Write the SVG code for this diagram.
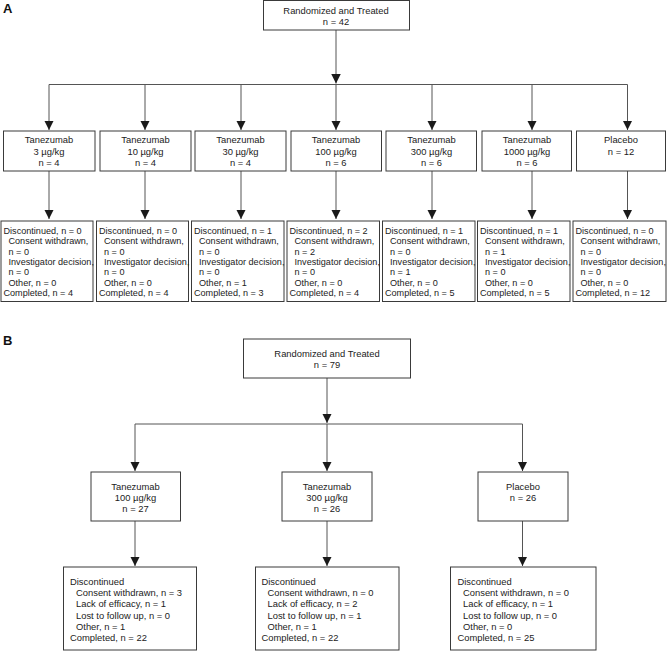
<svg xmlns="http://www.w3.org/2000/svg" width="667" height="651" viewBox="0 0 667 651">
<defs>
<marker id="ah" viewBox="0 0 10 10" refX="10" refY="5" markerWidth="9.5" markerHeight="9.5" markerUnits="userSpaceOnUse" orient="auto">
<path d="M0,0 L10,5 L0,10 Z" fill="#1a1a1a"/>
</marker>
</defs>
<style>
text{font-family:"Liberation Sans",Arial,sans-serif;font-size:9.4px;fill:#222}
.s{font-size:9.1px}
.c{text-anchor:middle}
.lbl{font-size:13px;font-weight:bold;fill:#111}
.box{fill:#fff;stroke:#3a3a3a;stroke-width:1}
.ln{fill:none;stroke:#555;stroke-width:1}
.ar{fill:none;stroke:#555;stroke-width:1;marker-end:url(#ah)}
</style>
<rect width="667" height="651" fill="#fff"/>
<text class="lbl" x="3" y="13">A</text>
<text class="lbl" x="3" y="345">B</text>

<g id="connectors">
<path class="ar" d="M336,30 V83.5"/>
<path class="ln" d="M49,84.5 H627.5"/>
<path class="ar" d="M49,84.5 V130"/>
<path class="ar" d="M145,84.5 V130"/>
<path class="ar" d="M241,84.5 V130"/>
<path class="ar" d="M336,84.5 V130"/>
<path class="ar" d="M432,84.5 V130"/>
<path class="ar" d="M532,84.5 V130"/>
<path class="ar" d="M627.5,84.5 V130"/>
<path class="ar" d="M49,171 V219"/>
<path class="ar" d="M145,171 V219"/>
<path class="ar" d="M241,171 V219"/>
<path class="ar" d="M336,171 V219"/>
<path class="ar" d="M432,171 V219"/>
<path class="ar" d="M532,171 V219"/>
<path class="ar" d="M627.5,171 V219"/>
<path class="ar" d="M327,378 V423"/>
<path class="ln" d="M135,424 H522.5"/>
<path class="ar" d="M135,424 V471"/>
<path class="ar" d="M327,424 V471"/>
<path class="ar" d="M522.5,424 V471"/>
<path class="ar" d="M135,521 V566"/>
<path class="ar" d="M327,521 V566"/>
<path class="ar" d="M522.5,521 V566"/>
</g>

<g id="a-root">
<rect class="box" x="263.5" y="0.5" width="146" height="29.5"/>
<text class="c" x="336" y="13.5">Randomized and Treated</text>
<text class="c" x="336" y="25">n = 42</text>
</g>

<g id="a-t3">
<rect class="box" x="3.5" y="131" width="91.5" height="40"/>
<text class="c" x="49" y="143">Tanezumab</text>
<text class="c" x="49" y="154.5">3 µg/kg</text>
<text class="c" x="49" y="166">n = 4</text>
</g>
<g id="a-t10">
<rect class="box" x="100" y="131" width="91" height="40"/>
<text class="c" x="145.5" y="143">Tanezumab</text>
<text class="c" x="145.5" y="154.5">10 µg/kg</text>
<text class="c" x="145.5" y="166">n = 4</text>
</g>
<g id="a-t30">
<rect class="box" x="195" y="131" width="91" height="40"/>
<text class="c" x="240.5" y="143">Tanezumab</text>
<text class="c" x="240.5" y="154.5">30 µg/kg</text>
<text class="c" x="240.5" y="166">n = 4</text>
</g>
<g id="a-t100">
<rect class="box" x="291" y="131" width="90.5" height="40"/>
<text class="c" x="336" y="143">Tanezumab</text>
<text class="c" x="336" y="154.5">100 µg/kg</text>
<text class="c" x="336" y="166">n = 6</text>
</g>
<g id="a-t300">
<rect class="box" x="386" y="131" width="90.5" height="40"/>
<text class="c" x="431.5" y="143">Tanezumab</text>
<text class="c" x="431.5" y="154.5">300 µg/kg</text>
<text class="c" x="431.5" y="166">n = 6</text>
</g>
<g id="a-t1000">
<rect class="box" x="482" y="131" width="89.5" height="40"/>
<text class="c" x="527" y="143">Tanezumab</text>
<text class="c" x="527" y="154.5">1000 µg/kg</text>
<text class="c" x="527" y="166">n = 6</text>
</g>
<g id="a-pbo">
<rect class="box" x="576.5" y="131" width="89" height="40"/>
<text class="c" x="621" y="143">Placebo</text>
<text class="c" x="621" y="154.5">n = 12</text>
</g>

<g id="a-o3" class="s">
<rect class="box" x="1" y="221" width="92" height="80.5"/>
<text class="s" x="3.5" y="233.5">Discontinued, n = 0</text>
<text class="s" x="8.5" y="244">Consent withdrawn,</text>
<text class="s" x="8.5" y="254.5">n = 0</text>
<text class="s" x="8.5" y="265">Investigator decision,</text>
<text class="s" x="8.5" y="275">n = 0</text>
<text class="s" x="8.5" y="285.5">Other, n = 0</text>
<text class="s" x="3.5" y="296">Completed, n = 4</text>
</g>
<g id="a-o10">
<rect class="box" x="96.5" y="221" width="92" height="80.5"/>
<text class="s" x="99" y="233.5">Discontinued, n = 0</text>
<text class="s" x="104" y="244">Consent withdrawn,</text>
<text class="s" x="104" y="254.5">n = 0</text>
<text class="s" x="104" y="265">Investigator decision,</text>
<text class="s" x="104" y="275">n = 0</text>
<text class="s" x="104" y="285.5">Other, n = 0</text>
<text class="s" x="99" y="296">Completed, n = 4</text>
</g>
<g id="a-o30">
<rect class="box" x="191.5" y="221" width="92.5" height="80.5"/>
<text class="s" x="194" y="233.5">Discontinued, n = 1</text>
<text class="s" x="199" y="244">Consent withdrawn,</text>
<text class="s" x="199" y="254.5">n = 0</text>
<text class="s" x="199" y="265">Investigator decision,</text>
<text class="s" x="199" y="275">n = 0</text>
<text class="s" x="199" y="285.5">Other, n = 1</text>
<text class="s" x="194" y="296">Completed, n = 3</text>
</g>
<g id="a-o100">
<rect class="box" x="287" y="221" width="92.5" height="80.5"/>
<text class="s" x="289.5" y="233.5">Discontinued, n = 2</text>
<text class="s" x="294.5" y="244">Consent withdrawn,</text>
<text class="s" x="294.5" y="254.5">n = 2</text>
<text class="s" x="294.5" y="265">Investigator decision,</text>
<text class="s" x="294.5" y="275">n = 0</text>
<text class="s" x="294.5" y="285.5">Other, n = 0</text>
<text class="s" x="289.5" y="296">Completed, n = 4</text>
</g>
<g id="a-o300">
<rect class="box" x="382.5" y="221" width="92.5" height="80.5"/>
<text class="s" x="385" y="233.5">Discontinued, n = 1</text>
<text class="s" x="390" y="244">Consent withdrawn,</text>
<text class="s" x="390" y="254.5">n = 0</text>
<text class="s" x="390" y="265">Investigator decision,</text>
<text class="s" x="390" y="275">n = 1</text>
<text class="s" x="390" y="285.5">Other, n = 0</text>
<text class="s" x="385" y="296">Completed, n = 5</text>
</g>
<g id="a-o1000">
<rect class="box" x="477.5" y="221" width="92.5" height="80.5"/>
<text class="s" x="480" y="233.5">Discontinued, n = 1</text>
<text class="s" x="485" y="244">Consent withdrawn,</text>
<text class="s" x="485" y="254.5">n = 1</text>
<text class="s" x="485" y="265">Investigator decision,</text>
<text class="s" x="485" y="275">n = 0</text>
<text class="s" x="485" y="285.5">Other, n = 0</text>
<text class="s" x="480" y="296">Completed, n = 5</text>
</g>
<g id="a-opbo">
<rect class="box" x="573" y="221" width="93" height="80.5"/>
<text class="s" x="575.5" y="233.5">Discontinued, n = 0</text>
<text class="s" x="580.5" y="244">Consent withdrawn,</text>
<text class="s" x="580.5" y="254.5">n = 0</text>
<text class="s" x="580.5" y="265">Investigator decision,</text>
<text class="s" x="580.5" y="275">n = 0</text>
<text class="s" x="580.5" y="285.5">Other, n = 0</text>
<text class="s" x="575.5" y="296">Completed, n = 12</text>
</g>

<g id="b-root">
<rect class="box" x="243.5" y="339" width="167" height="39"/>
<text class="c" x="327" y="357">Randomized and Treated</text>
<text class="c" x="327" y="368">n = 79</text>
</g>
<g id="b-t100">
<rect class="box" x="91" y="472" width="89.5" height="49"/>
<text class="c" x="135.5" y="489.5">Tanezumab</text>
<text class="c" x="135.5" y="501">100 µg/kg</text>
<text class="c" x="135.5" y="512">n = 27</text>
</g>
<g id="b-t300">
<rect class="box" x="282" y="472" width="90" height="49"/>
<text class="c" x="327" y="489.5">Tanezumab</text>
<text class="c" x="327" y="501">300 µg/kg</text>
<text class="c" x="327" y="512">n = 26</text>
</g>
<g id="b-pbo">
<rect class="box" x="478" y="472" width="90" height="49"/>
<text class="c" x="523" y="489.5">Placebo</text>
<text class="c" x="523" y="501">n = 26</text>
</g>

<g id="b-o100">
<rect class="box" x="63.5" y="567" width="133" height="83"/>
<text x="70" y="584.5">Discontinued</text>
<text x="76" y="596">Consent withdrawn, n = 3</text>
<text x="76" y="607">Lack of efficacy, n = 1</text>
<text x="76" y="618.5">Lost to follow up, n = 0</text>
<text x="76" y="629.5">Other, n = 1</text>
<text x="70" y="640.5">Completed, n = 22</text>
</g>
<g id="b-o300">
<rect class="box" x="255.5" y="567" width="143.5" height="83"/>
<text x="261.5" y="584.5">Discontinued</text>
<text x="267.5" y="596">Consent withdrawn, n = 0</text>
<text x="267.5" y="607">Lack of efficacy, n = 2</text>
<text x="267.5" y="618.5">Lost to follow up, n = 1</text>
<text x="267.5" y="629.5">Other, n = 1</text>
<text x="261.5" y="640.5">Completed, n = 22</text>
</g>
<g id="b-opbo">
<rect class="box" x="450.5" y="567" width="145.5" height="83"/>
<text x="457.5" y="584.5">Discontinued</text>
<text x="463" y="596">Consent withdrawn, n = 0</text>
<text x="463" y="607">Lack of efficacy, n = 1</text>
<text x="463" y="618.5">Lost to follow up, n = 0</text>
<text x="463" y="629.5">Other, n = 0</text>
<text x="457.5" y="640.5">Completed, n = 25</text>
</g>
</svg>
